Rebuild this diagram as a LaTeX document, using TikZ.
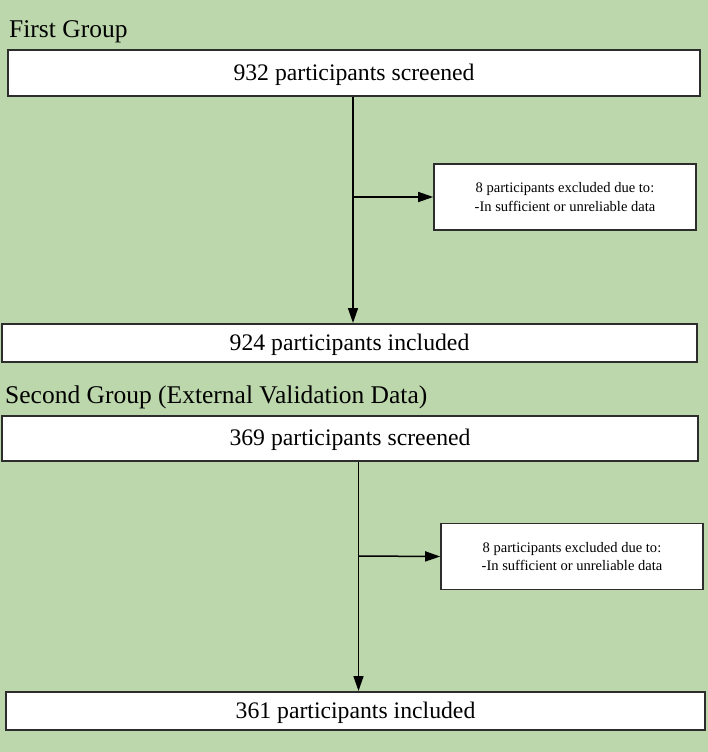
\documentclass[tikz,border=0pt]{standalone}
\usepackage{fontspec}
\setmainfont{Liberation Serif}
\usetikzlibrary{arrows.meta}
\definecolor{bggreen}{RGB}{189,215,172}
\definecolor{boxline}{RGB}{45,45,45}
\tikzset{
	mainbox/.style={rectangle, draw=boxline, line width=2bp, fill=white, inner sep=0, text depth=1bp, font=\fontsize{23.8}{26}\selectfont},
	exclbox/.style={rectangle, draw=boxline, line width=1.6bp, fill=white, inner sep=0, align=center, font=\fontsize{14.6}{19}\selectfont},
	grouptitle/.style={anchor=base west, inner sep=0, font=\fontsize{25.6}{28}\selectfont},
	flowarrow/.style={line width=1.5bp, -{Triangle[length=15bp,width=10bp]}}
}
\begin{document}
	\begin{tikzpicture}[x=1bp, y=-1bp]
		\useasboundingbox[fill=bggreen] (0,0) rectangle (708,752);
		% first group
		\node (title1) at (9,37.5) [grouptitle] {First Group};
		\node (screen1) at (354,73) [mainbox, minimum width=692bp, minimum height=46bp] {932 participants screened};
		\node (excl1) at (565,197) [exclbox, minimum width=262bp, minimum height=66bp] {8 participants excluded due to:\\-In sufficient or unreliable data};
		\node (incl1) at (349.5,343) [mainbox, minimum width=695bp, minimum height=38bp] {924 participants included};
		\coordinate (split1) at (353,197);
		\draw[flowarrow] (split1 |- screen1.south) -- (split1 |- incl1.north);
		\draw[flowarrow] (split1) -- (excl1.west);
		% second group
		\node (title2) at (5,403) [grouptitle] {Second Group (External Validation Data)};
		\node (screen2) at (350,438) [mainbox, minimum width=695bp, minimum height=45bp] {369 participants screened};
		\node (excl2) at (572,556.5) [exclbox, minimum width=262bp, minimum height=66bp] {8 participants excluded due to:\\-In sufficient or unreliable data};
		\node (incl2) at (355.5,711) [mainbox, minimum width=699bp, minimum height=38bp] {361 participants included};
		\coordinate (split2) at (358.5,556);
		\draw[flowarrow] (split2 |- screen2.south) -- (split2 |- incl2.north);
		\draw[flowarrow] (split2) -- (excl2.west);
	\end{tikzpicture}
\end{document}
